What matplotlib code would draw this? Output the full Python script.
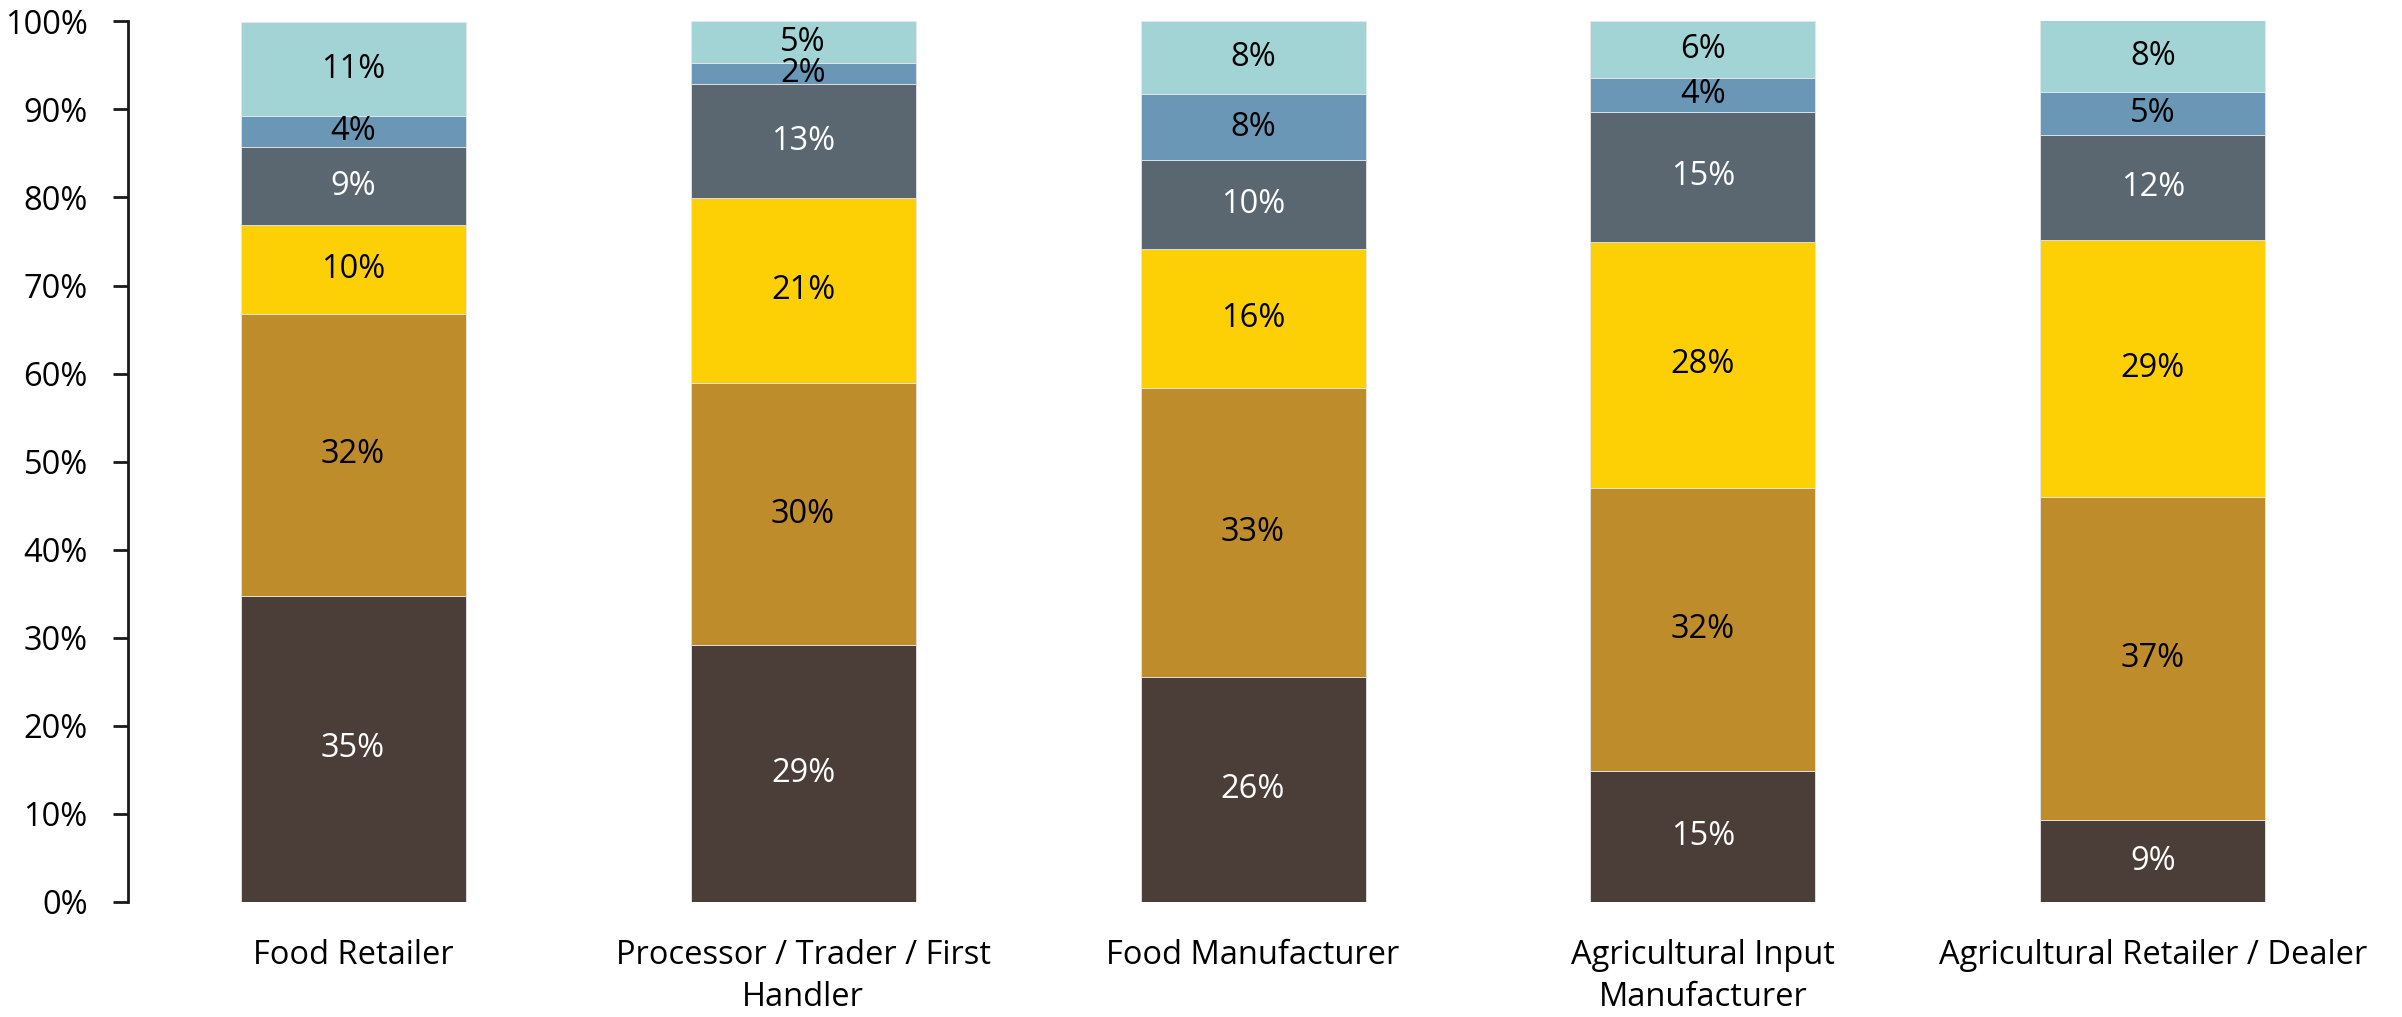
import matplotlib
matplotlib.use("Agg")
import matplotlib.pyplot as plt
from matplotlib.ticker import FixedLocator, FuncFormatter
import numpy as np

plt.rcParams['font.family'] = ['Open Sans', 'DejaVu Sans']

categories = ["Food Retailer", "Processor / Trader / First\nHandler", "Food Manufacturer",
              "Agricultural Input\nManufacturer", "Agricultural Retailer / Dealer"]

# Share (%) of each segment, bottom to top
seg1 = [34.8, 29.2, 25.6, 14.9, 9.3]
seg2 = [32.0, 29.7, 32.8, 32.1, 36.7]
seg3 = [10.1, 21.0, 15.8, 28.0, 29.2]
seg4 = [8.8, 13.0, 10.0, 14.7, 11.9]
seg5 = [3.5, 2.4, 7.6, 3.9, 4.9]
seg6 = [10.7, 4.7, 8.2, 6.4, 8.1]

series = [seg1, seg2, seg3, seg4, seg5, seg6]
colors = ["#4B3E38", "#BF8C2C", "#FDD005", "#5A6770", "#6A97B5", "#A2D4D5"]
text_colors = ["white", "black", "black", "white", "black", "black"]

fig = plt.figure(figsize=(24.02, 10.17), dpi=100)
ax = fig.add_axes([0.0533, 0.1131, 0.9367, 0.8659])

x = np.arange(len(categories))
bottom = np.zeros(len(categories))
for vals, col, tcol in zip(series, colors, text_colors):
    vals = np.array(vals)
    ax.bar(x, vals, width=0.5, bottom=bottom, color=col, edgecolor="#e6e6e6", linewidth=0.6)
    for xi, b, v in zip(x, bottom, vals):
        ax.text(xi, b + v / 2, f"{v:.0f}%", ha="center", va="center",
                fontsize=23.5, color=tcol)
    bottom += vals

ax.set_xlim(-0.5, len(categories) - 0.5)
ax.set_ylim(0, 100)
ax.yaxis.set_major_locator(FixedLocator(np.arange(0, 101, 10)))
ax.yaxis.set_major_formatter(FuncFormatter(lambda v, p: f"{v:.0f}%"))
ax.set_xticks(x)
ax.set_xticklabels(categories, fontsize=23.5, linespacing=1.35)

for s in ["top", "right", "bottom"]:
    ax.spines[s].set_visible(False)
ax.spines["left"].set_linewidth(2)
ax.spines["left"].set_color("#1a1a1a")
ax.tick_params(axis="y", direction="out", length=11, width=2, color="#1a1a1a",
               labelsize=23.5, pad=18)
ax.tick_params(axis="x", length=0, pad=27)

fig.savefig("out.png", dpi=100)
